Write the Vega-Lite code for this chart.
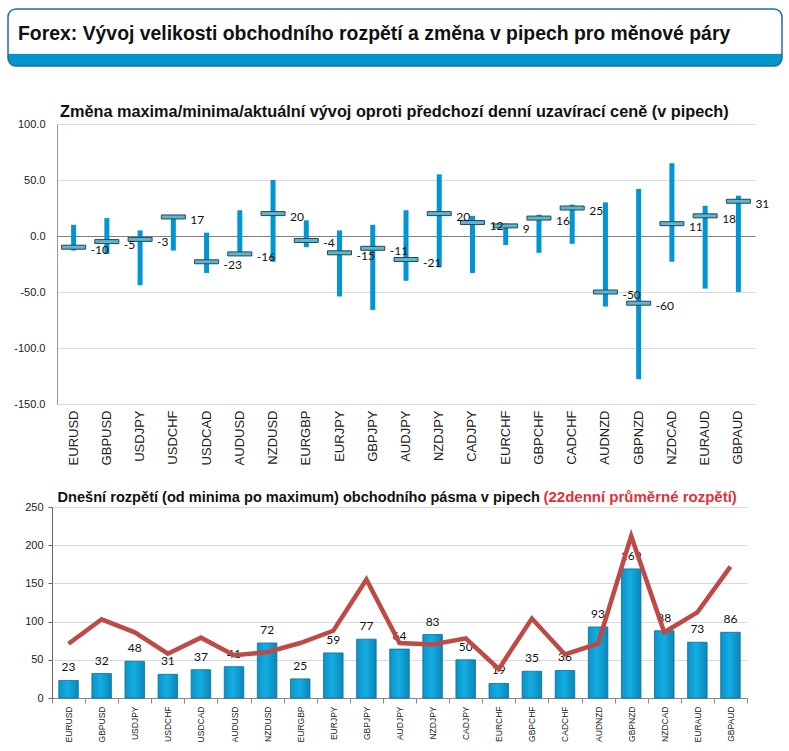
{
  "$schema": "https://vega.github.io/schema/vega-lite/v6.json",
  "padding": {"left": 4, "top": 8, "right": 0, "bottom": 0},
  "background": "white",
  "spacing": 36,
  "config": {
    "font": "Liberation Sans",
    "view": {"stroke": null},
    "axis": {"labelFont": "Liberation Sans", "labelColor": "#222", "gridColor": "#d9d9d9", "domainColor": "#888", "tickColor": "#888"}
  },
  "datasets": {
    "pairs": [
      {"pair": "EURUSD", "high": 10, "low": -13, "change": -10, "range": 23, "avg22": 71},
      {"pair": "GBPUSD", "high": 16, "low": -16, "change": -5, "range": 32, "avg22": 103},
      {"pair": "USDJPY", "high": 5, "low": -44, "change": -3, "range": 48, "avg22": 86},
      {"pair": "USDCHF", "high": 18, "low": -13, "change": 17, "range": 31, "avg22": 58},
      {"pair": "USDCAD", "high": 3, "low": -33, "change": -23, "range": 37, "avg22": 79},
      {"pair": "AUDUSD", "high": 23, "low": -16, "change": -16, "range": 41, "avg22": 56},
      {"pair": "NZDUSD", "high": 50, "low": -23, "change": 20, "range": 72, "avg22": 60},
      {"pair": "EURGBP", "high": 14, "low": -10, "change": -4, "range": 25, "avg22": 72},
      {"pair": "EURJPY", "high": 5, "low": -54, "change": -15, "range": 59, "avg22": 88},
      {"pair": "GBPJPY", "high": 10, "low": -66, "change": -11, "range": 77, "avg22": 155},
      {"pair": "AUDJPY", "high": 23, "low": -40, "change": -21, "range": 64, "avg22": 72},
      {"pair": "NZDJPY", "high": 55, "low": -28, "change": 20, "range": 83, "avg22": 70},
      {"pair": "CADJPY", "high": 18, "low": -33, "change": 12, "range": 50, "avg22": 78},
      {"pair": "EURCHF", "high": 11, "low": -8, "change": 9, "range": 19, "avg22": 38},
      {"pair": "GBPCHF", "high": 19, "low": -15, "change": 16, "range": 35, "avg22": 104},
      {"pair": "CADCHF", "high": 28, "low": -7, "change": 25, "range": 36, "avg22": 57},
      {"pair": "AUDNZD", "high": 30, "low": -63, "change": -50, "range": 93, "avg22": 71},
      {"pair": "GBPNZD", "high": 42, "low": -128, "change": -60, "range": 169, "avg22": 212},
      {"pair": "NZDCAD", "high": 65, "low": -23, "change": 11, "range": 88, "avg22": 86},
      {"pair": "EURAUD", "high": 27, "low": -47, "change": 18, "range": 73, "avg22": 112},
      {"pair": "GBPAUD", "high": 36, "low": -50, "change": 31, "range": 86, "avg22": 172}
    ]
  },
  "vconcat": [
    {
      "width": 774,
      "height": 57,
      "data": {"values": []},
      "mark": "point",
      "title": {
        "text": "Forex: Vývoj velikosti obchodního rozpětí a změna v pipech pro měnové páry",
        "anchor": "start",
        "frame": "group",
        "baseline": "alphabetic",
        "offset": -50,
        "dx": 10,
        "font": "Liberation Sans",
        "fontSize": 19.4,
        "fontWeight": "bold",
        "color": "#111"
      },
      "view": {
        "stroke": "#1f6c9c",
        "strokeWidth": 1.5,
        "cornerRadius": 8,
        "fill": {
          "gradient": "linear", "x1": 0, "y1": 0, "x2": 0, "y2": 1,
          "stops": [
            {"offset": 0, "color": "#ffffff"},
            {"offset": 0.78, "color": "#ffffff"},
            {"offset": 0.785, "color": "#0096cd"},
            {"offset": 1, "color": "#0096cd"}
          ]
        }
      }
    },
    {
      "spacing": 24,
      "vconcat": [
        {
          "width": 747,
          "height": 280,
          "data": {"name": "pairs"},
          "title": {
            "text": "Změna maxima/minima/aktuální vývoj oproti předchozí denní uzavírací ceně (v pipech)",
            "anchor": "start",
            "frame": "group",
            "baseline": "alphabetic",
            "offset": -15,
            "dx": 52,
            "font": "Liberation Sans",
            "fontSize": 16.3,
            "fontWeight": "bold",
            "color": "#111"
          },
          "encoding": {
            "x": {
              "field": "pair", "type": "nominal", "sort": null,
              "scale": {"paddingInner": 0, "paddingOuter": 0, "range": [49, 747]},
              "axis": {"title": null, "labelAngle": -90, "labelFontSize": 13, "labelPadding": 6, "ticks": false, "domain": false, "grid": false}
            }
          },
          "layer": [
            {
              "mark": {"type": "rule", "color": "#0096d3", "strokeWidth": 5},
              "encoding": {
                "y": {
                  "field": "low", "type": "quantitative",
                  "scale": {"domain": [-150, 100], "nice": false},
                  "axis": {"title": null, "values": [-150, -100, -50, 0, 50, 100], "labelExpr": "replace(format(datum.value, '.1f'), '\u2212', '-')", "labelFontSize": 11, "labelPadding": 12, "ticks": false, "offset": -49, "minExtent": 0, "domainColor": "#999", "gridColor": {"condition": {"test": "datum.value === 0", "value": "#808080"}, "value": "#d9d9d9"}}
                },
                "y2": {"field": "high"}
              }
            },
            {
              "mark": {"type": "tick", "fill": "#5ab7d2", "stroke": "#2a4450", "strokeWidth": 1, "thickness": 4, "size": 24, "opacity": 1},
              "encoding": {"y": {"field": "change", "type": "quantitative"}}
            },
            {
              "mark": {"type": "text", "align": "left", "baseline": "middle", "dx": 17, "dy": 3, "font": "Lato", "fontSize": 12, "color": "#111"},
              "encoding": {
                "y": {"field": "change", "type": "quantitative"},
                "text": {"field": "change", "type": "nominal"}
              }
            }
          ]
        },
        {
          "width": 739,
          "height": 191,
          "data": {"name": "pairs"},
          "encoding": {
            "x": {
              "field": "pair", "type": "nominal", "sort": null,
              "scale": {"paddingInner": 0, "paddingOuter": 0, "range": [44, 739]}
            },
            "y": {
              "field": "range", "type": "quantitative",
              "scale": {"domain": [0, 250], "nice": false},
              "axis": {"title": null, "values": [0, 50, 100, 150, 200, 250], "labelFontSize": 11, "labelPadding": 5, "tickSize": 4, "offset": -44, "minExtent": 0, "domainColor": "#666", "tickColor": "#666", "gridColor": "#d9d9d9"}
            }
          },
          "resolve": {"axis": {"x": "independent"}},
          "layer": [
            {
              "mark": {
                "type": "bar",
                "width": {"band": 0.59},
                "stroke": "#0a6f98",
                "strokeWidth": 0.8,
                "fill": {
                  "gradient": "linear", "x1": 0, "y1": 0, "x2": 1, "y2": 0,
                  "stops": [
                    {"offset": 0, "color": "#0b93c8"},
                    {"offset": 0.45, "color": "#14aee2"},
                    {"offset": 1, "color": "#0a86b8"}
                  ]
                }
              },
              "encoding": {
                "x": {
                  "field": "pair", "type": "nominal", "sort": null,
                  "axis": {"orient": "bottom", "title": null, "labelAngle": -90, "labelFontSize": 8.5, "labelPadding": 3, "tickBand": "extent", "tickSize": 5, "domainColor": "#888", "tickColor": "#888", "grid": false}
                }
              }
            },
            {
              "mark": {"type": "text", "baseline": "bottom", "dy": -6, "font": "Lato", "fontSize": 12, "color": "#111"},
              "encoding": {
                "x": {
                  "field": "pair", "type": "nominal", "sort": null,
                  "axis": {"orient": "top", "title": "Dnešní rozpětí (od minima po maximum) obchodního pásma v pipech", "labels": false, "ticks": false, "domain": false, "grid": false, "titleX": 49, "titleY": -6, "titleAnchor": "start", "titleAlign": "left", "titleBaseline": "alphabetic", "titleFont": "Liberation Sans", "titleFontSize": 14.6, "titleFontWeight": "bold", "titleColor": "#111"}
                },
                "text": {"field": "range", "type": "nominal"}
              }
            },
            {
              "mark": {"type": "line", "color": "#bd4a45", "strokeWidth": 4.5},
              "encoding": {
                "x": {
                  "field": "pair", "type": "nominal", "sort": null,
                  "axis": {"orient": "top", "title": "(22denní průměrné rozpětí)", "labels": false, "ticks": false, "domain": false, "grid": false, "titleX": 535, "titleY": -6, "titleAnchor": "start", "titleAlign": "left", "titleBaseline": "alphabetic", "titleFont": "Liberation Sans", "titleFontSize": 15, "titleFontWeight": "bold", "titleColor": "#e0313a"}
                },
                "y": {"field": "avg22", "type": "quantitative"}
              }
            }
          ]
        }
      ]
    }
  ]
}
